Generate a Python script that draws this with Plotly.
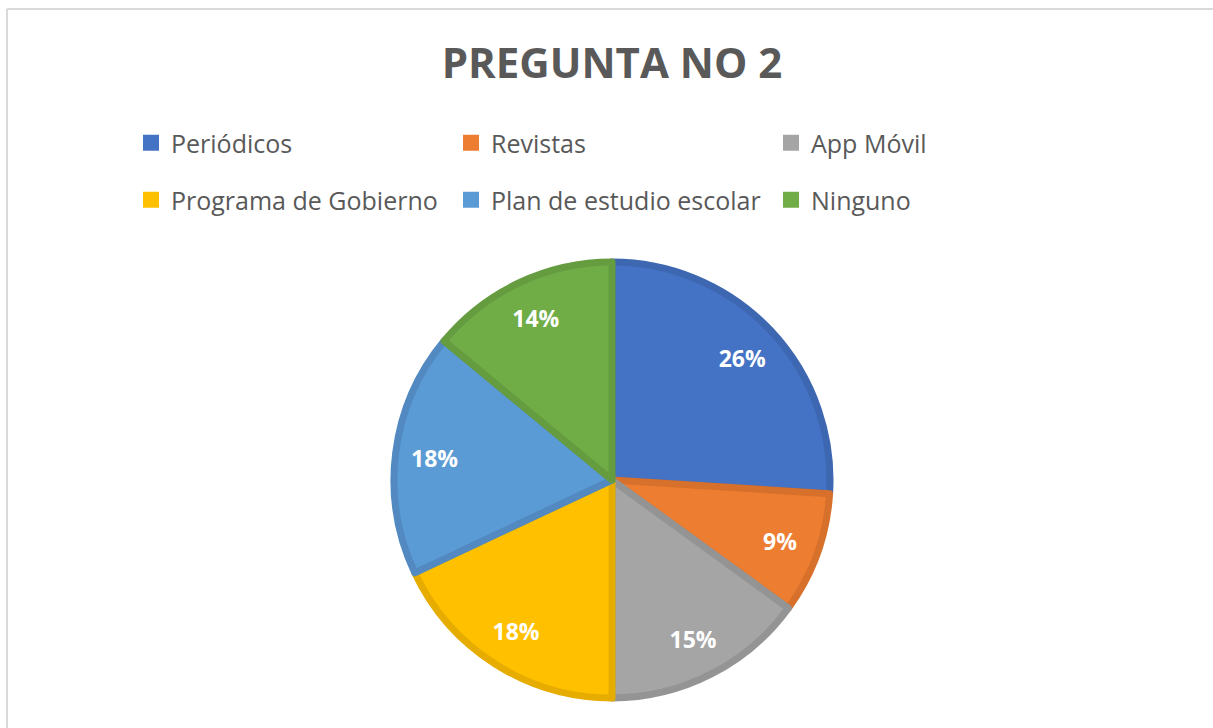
import plotly.graph_objects as go

labels = ["Periódicos", "Revistas", "App Móvil", "Programa de Gobierno", "Plan de estudio escolar", "Ninguno"]
values = [26, 9, 15, 18, 18, 14]
colors = ["#4472C4", "#ED7D31", "#A5A5A5", "#FFC000", "#5B9BD5", "#70AD47"]
edge_colors = ["#3E67B1", "#D6702B", "#949494", "#E6AD00", "#5189C0", "#659C40"]
title_text = "PREGUNTA NO 2"

W, H = 1213, 728
pie_domain = dict(x=[394 / W, 830 / W], y=[1 - 698 / H, 1 - 262 / H])
fig = go.Figure()

# filled pie
fig.add_trace(go.Pie(
    labels=labels, values=values, sort=False, direction="clockwise", rotation=0,
    marker=dict(colors=colors, line=dict(color=edge_colors, width=7)),
    textinfo="none", showlegend=False, hoverinfo="label+percent",
    domain=pie_domain,
))

# label layer: same slices, transparent, labels placed in the outer ring
fig.add_trace(go.Pie(
    labels=labels, values=values, sort=False, direction="clockwise", rotation=0, hole=0.64,
    marker=dict(colors=["rgba(0,0,0,0)"] * len(values), line=dict(width=0)),
    texttemplate="%{percent:.0%}", textposition="inside", insidetextorientation="horizontal",
    textfont=dict(family="Open Sans", size=23, color="white", weight="bold"),
    showlegend=False, hoverinfo="skip",
    domain=pie_domain,
))

# legend entries (two rows, three columns)
for i, (lab, col) in enumerate(zip(labels, colors)):
    fig.add_trace(go.Scatter(
        x=[None], y=[None], mode="markers", name=lab,
        marker=dict(symbol="square", size=18, color=col, line=dict(width=0)),
        legend="legend" if i < 3 else "legend2", hoverinfo="skip",
    ))

legend_common = dict(
    orientation="h", xanchor="left", yanchor="middle",
    entrywidth=275, entrywidthmode="pixels",
    font=dict(family="Open Sans", size=25, color="#595959"),
    bgcolor="rgba(0,0,0,0)", borderwidth=0, traceorder="normal",
)

fig.update_layout(
    width=W, height=H,
    margin=dict(l=0, r=0, t=0, b=0),
    paper_bgcolor="white", plot_bgcolor="white",
    xaxis=dict(visible=False), yaxis=dict(visible=False),
    title=dict(text=title_text, x=612 / W, xanchor="center", y=1 - 63 / H, yanchor="middle",
               xref="paper", yref="container",
               font=dict(family="Open Sans", size=42, color="#595959", weight="bold")),
    legend=dict(x=131 / W, y=1 - 143 / H, **legend_common),
    legend2=dict(x=131 / W, y=1 - 200 / H, **legend_common),
    shapes=[
        dict(type="line", xref="paper", yref="paper", x0=7 / W, x1=7 / W, y0=-0.05, y1=1 - 9 / H,
             line=dict(color="#D9D9D9", width=2)),
        dict(type="line", xref="paper", yref="paper", x0=7 / W, x1=1.05, y0=1 - 9 / H, y1=1 - 9 / H,
             line=dict(color="#D9D9D9", width=2)),
    ],
)

fig.write_html("out.html", config={"displayModeBar": False},
               post_script="document.body.style.margin='0';document.body.style.overflow='hidden';")
